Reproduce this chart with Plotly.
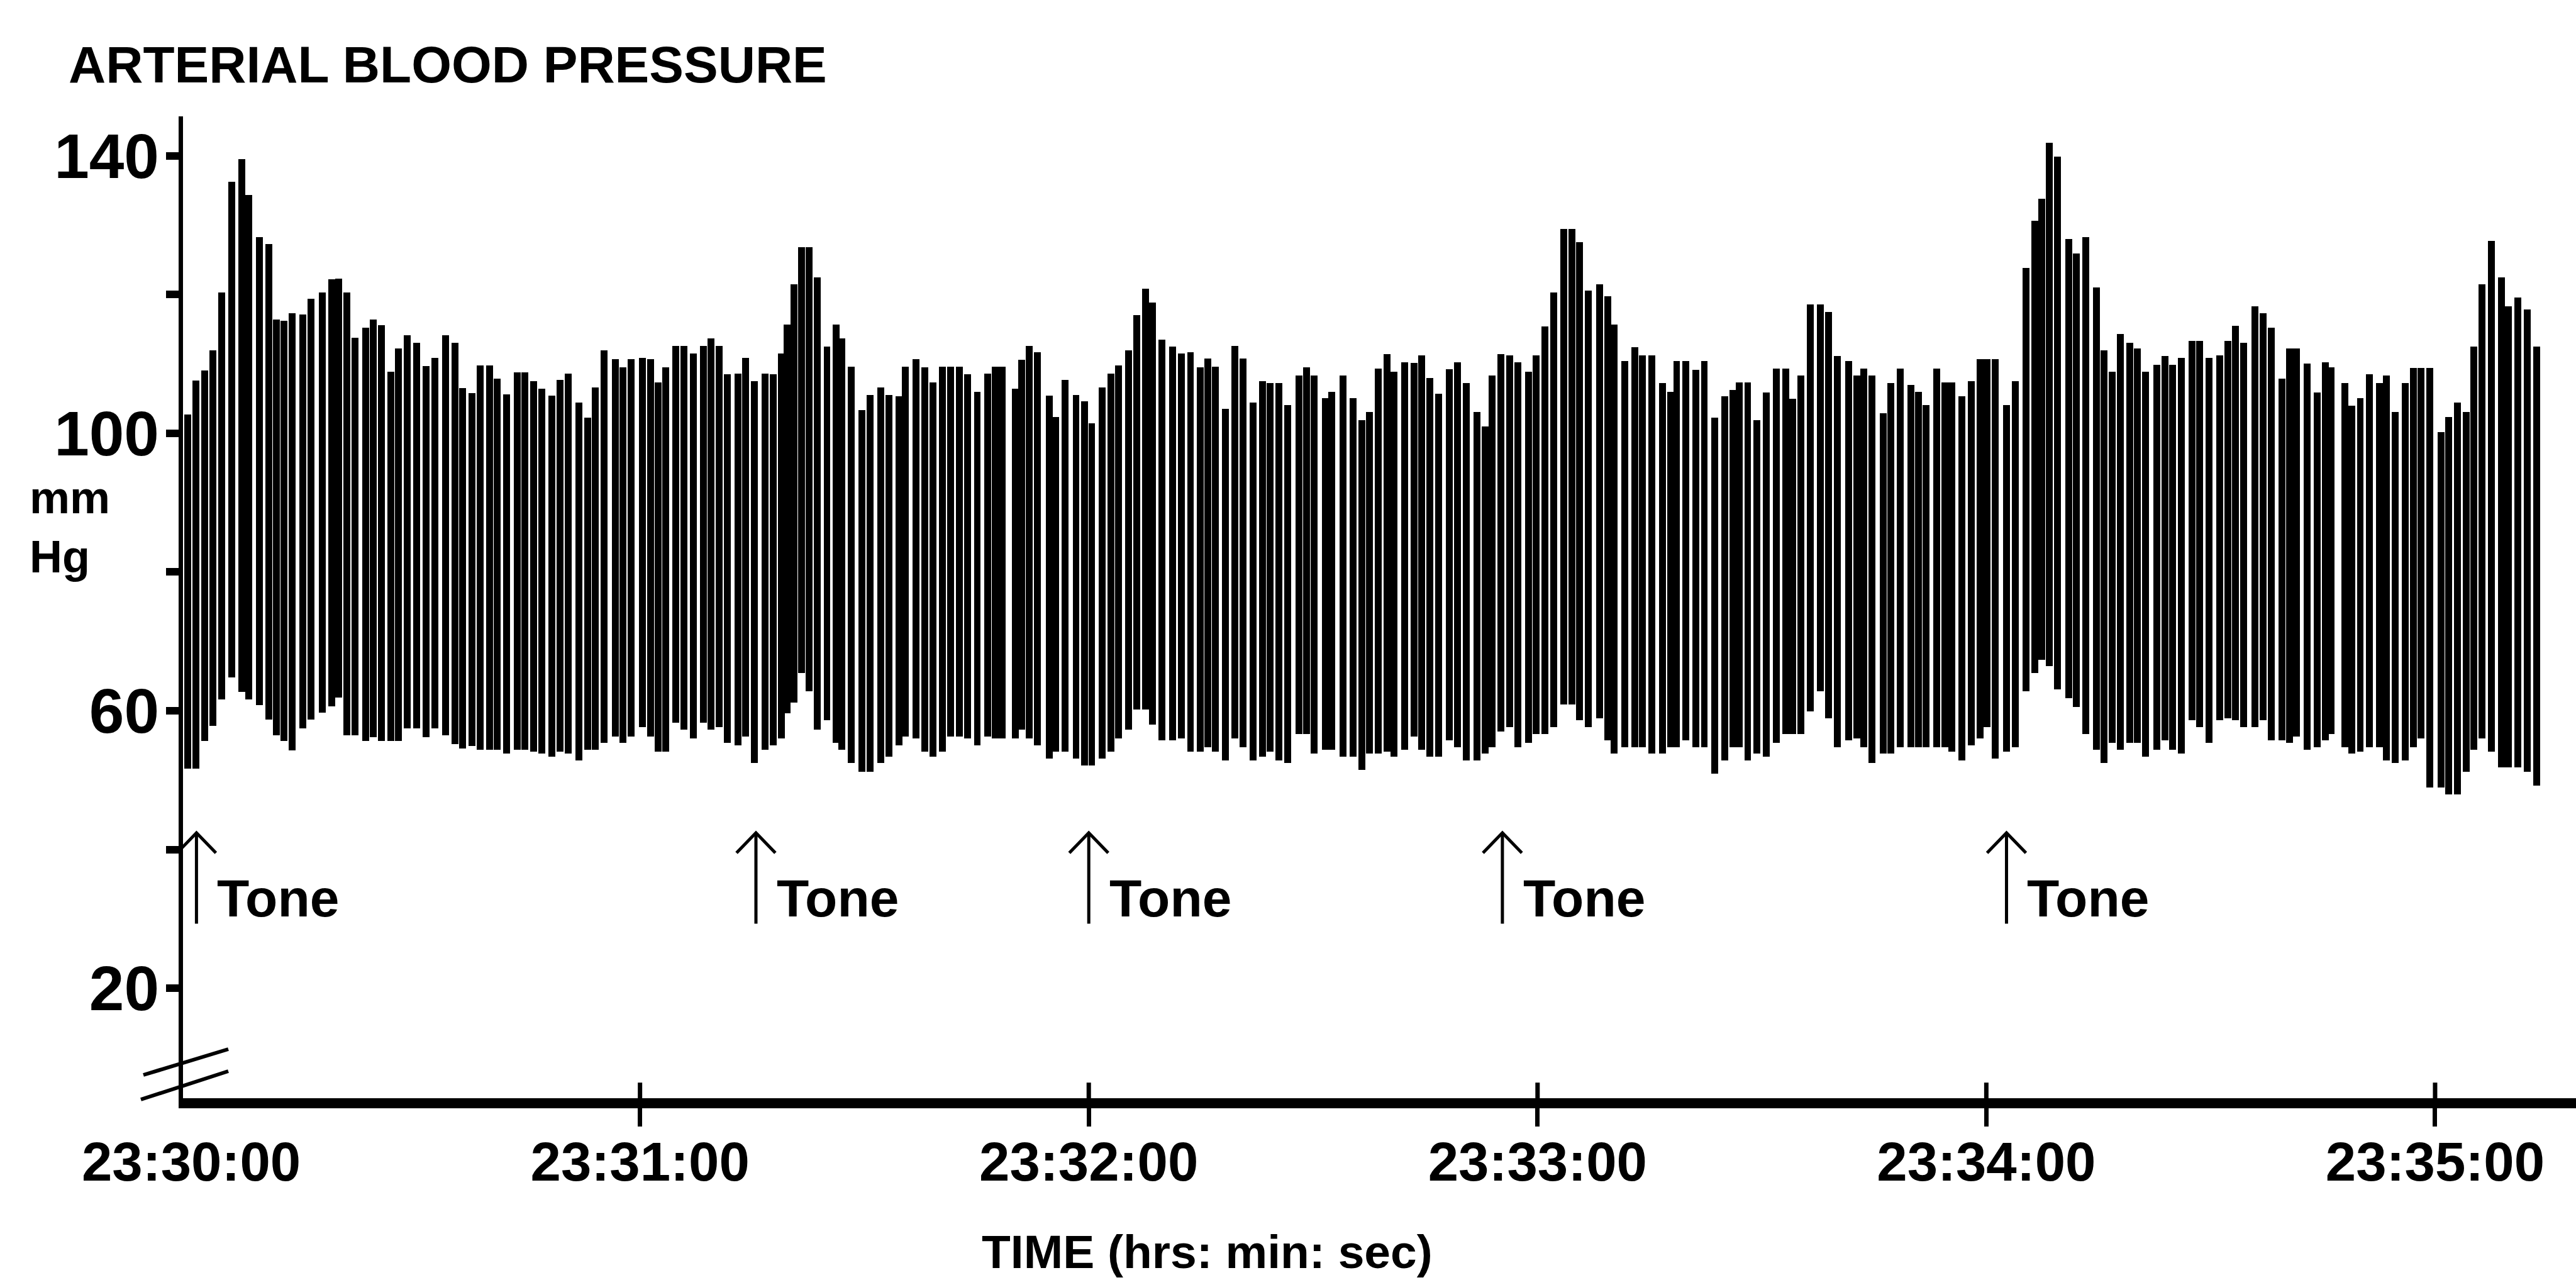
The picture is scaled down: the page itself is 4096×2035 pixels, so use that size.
import plotly.graph_objects as go

# ---------------------------------------------------------------------------
# Beat-by-beat arterial pressure: time of each beat (s after 23:30:00),
# systolic peak and diastolic trough (mmHg), grouped in consecutive stretches.
# ---------------------------------------------------------------------------
t_seg1 = [-0.5, 0.6, 1.8, 2.9, 4.1, 5.4, 6.8, 7.7, 9.1, 10.4, 11.4, 12.4, 13.5, 14.9, 16.0, 17.5,
          18.8, 19.7, 20.8, 21.9, 23.3, 24.3, 25.4, 26.7, 27.7, 28.9, 30.1, 31.4, 32.6, 34.0,
          35.3, 36.3, 37.5]
sys_seg1 = [102.7, 107.6, 109.0, 111.9, 120.3, 136.2, 139.5, 134.3, 128.3, 127.3, 116.4, 116.2,
            117.3, 117.1, 119.4, 120.3, 122.2, 122.3, 120.3, 113.8, 115.2, 116.4, 115.6, 108.9,
            112.2, 114.1, 113.0, 109.7, 110.9, 114.1, 113.0, 106.5, 105.8]
dia_seg1 = [51.7, 51.7, 55.6, 57.8, 61.6, 64.8, 62.7, 61.6, 60.8, 58.7, 56.5, 55.6, 54.3, 57.5,
            58.7, 59.7, 60.6, 61.9, 56.5, 56.5, 55.6, 56.2, 55.6, 55.6, 55.6, 57.5, 57.5, 56.2,
            57.5, 56.5, 55.2, 54.6, 54.9]

t_seg2 = [38.6, 39.9, 40.9, 42.2, 43.6, 44.6, 45.8, 46.9, 48.2, 49.3, 50.4, 51.8, 53.0, 54.0,
          55.2, 56.7, 57.7, 58.8, 60.3, 61.4, 62.4, 63.4, 64.8, 65.9, 67.1, 68.5, 69.5, 70.6,
          71.7, 73.1]
sys_seg2 = [109.8, 109.8, 107.9, 105.6, 108.8, 108.8, 107.5, 106.4, 105.4, 107.7, 108.6, 104.4,
            102.2, 106.6, 111.9, 110.7, 109.5, 110.7, 110.9, 110.7, 107.3, 109.5, 112.6, 112.6,
            111.5, 112.6, 113.7, 112.6, 108.5, 108.6]
dia_seg2 = [54.4, 54.4, 54.4, 53.8, 54.4, 54.4, 54.1, 53.8, 53.4, 54.1, 53.8, 52.8, 54.4, 54.4,
            55.4, 56.3, 55.4, 56.3, 57.6, 56.3, 54.1, 54.1, 58.3, 57.3, 56.0, 58.3, 57.3, 57.6,
            55.4, 55.0]

t_seg3 = [74.1, 75.3, 76.7, 77.8, 78.9, 79.7, 80.6, 81.6, 82.6, 83.7, 85.0, 86.2, 87.0, 88.2,
          89.7, 90.8, 92.2, 93.3, 94.6, 95.5, 96.9, 98.1, 99.2, 100.4, 101.5, 102.7, 103.8,
          105.1, 106.5, 107.5, 108.4]
sys_seg3 = [110.9, 107.5, 108.6, 108.5, 111.5, 115.7, 121.5, 126.8, 126.8, 122.5, 112.5, 115.7,
            113.7, 109.6, 103.3, 105.5, 106.6, 105.5, 105.3, 109.6, 110.7, 109.5, 107.3, 109.6,
            109.6, 109.6, 108.5, 106.0, 108.6, 109.6, 109.6]
dia_seg3 = [56.3, 52.5, 54.4, 55.0, 56.0, 59.6, 61.2, 65.4, 62.8, 57.3, 58.6, 55.4, 54.4, 52.5,
            51.2, 51.2, 52.5, 53.4, 55.0, 56.3, 56.0, 54.1, 53.4, 54.1, 56.3, 56.3, 56.0, 55.0,
            56.3, 56.0, 56.0]

t_seg4 = [110.2, 111.0, 112.0, 113.1, 114.7, 115.6, 116.8, 118.3, 119.4, 120.4, 121.8, 123.0,
          124.0, 125.3, 126.4, 127.6, 128.5, 129.8, 131.2, 132.4, 133.6, 134.9, 135.9, 136.9,
          138.3, 139.5, 140.6, 142.0, 143.2, 144.2]
sys_seg4 = [106.4, 110.6, 112.6, 111.7, 105.4, 102.3, 107.7, 105.5, 104.6, 101.4, 106.6, 108.6,
            109.8, 111.9, 117.0, 120.8, 118.8, 113.5, 112.5, 111.5, 111.7, 109.5, 110.8, 109.6,
            103.5, 112.6, 110.8, 104.4, 107.5, 107.2]
dia_seg4 = [56.0, 57.3, 56.0, 55.0, 53.1, 54.1, 54.1, 53.1, 52.1, 52.1, 53.1, 54.1, 56.0, 57.3,
            60.2, 60.2, 58.0, 55.7, 55.7, 56.0, 54.1, 54.1, 54.7, 54.1, 52.8, 56.0, 54.7, 52.8,
            53.4, 54.1]

t_seg5 = [145.4, 146.6, 148.1, 149.1, 150.1, 151.6, 152.5, 154.0, 155.3, 156.5, 157.5, 158.7,
          159.9, 160.8, 162.2, 163.5, 164.5, 165.6, 166.8, 168.2, 169.3, 170.5, 171.9, 173.0,
          173.9, 175.1, 176.3, 177.4, 178.8, 179.8]
sys_seg5 = [107.2, 104.1, 108.3, 109.5, 108.3, 105.1, 106.0, 108.3, 105.1, 101.9, 103.1, 109.3,
            111.4, 108.9, 110.2, 110.1, 111.2, 108.0, 105.7, 109.2, 110.2, 107.2, 103.1, 101.0,
            108.3, 111.4, 111.2, 110.2, 108.9, 111.2]
dia_seg5 = [52.8, 52.5, 56.6, 56.6, 53.8, 54.4, 54.4, 53.4, 53.4, 51.5, 53.8, 53.8, 54.1, 53.4,
            54.4, 56.3, 54.4, 53.4, 53.4, 55.7, 54.7, 52.8, 52.8, 53.8, 54.7, 57.0, 57.6, 54.7,
            55.4, 56.6]

t_seg6 = [181.0, 182.2, 183.5, 184.6, 185.6, 186.8, 188.3, 189.4, 190.2, 191.7, 193.0, 194.0,
          195.3, 196.7, 197.8, 198.6, 199.8, 201.2, 202.3, 203.7, 205.0, 206.1, 207.0, 208.1,
          209.3, 210.6, 211.9, 213.2, 214.1, 215.2]
sys_seg6 = [115.4, 120.3, 129.4, 129.4, 127.5, 120.6, 121.5, 119.7, 115.7, 110.4, 112.4, 111.2,
            111.2, 107.2, 106.0, 110.4, 110.4, 109.1, 110.4, 102.2, 105.3, 106.2, 107.3, 107.3,
            101.9, 105.9, 109.3, 109.3, 105.0, 108.3]
dia_seg6 = [56.6, 57.6, 60.9, 60.9, 58.6, 57.6, 58.9, 55.7, 53.8, 54.7, 54.7, 54.7, 53.8, 53.8,
            54.7, 54.7, 55.7, 54.7, 54.7, 50.9, 52.8, 54.7, 54.7, 52.8, 53.8, 53.4, 55.4, 56.6,
            56.6, 56.6]

t_seg7 = [216.5, 217.8, 218.9, 220.1, 221.6, 222.7, 223.6, 224.7, 226.2, 227.2, 228.5, 229.9,
          230.9, 231.9, 233.4, 234.5, 235.4, 236.7, 238.0, 239.2, 240.1, 241.2, 242.7, 243.9,
          245.3, 246.5, 247.4, 248.4, 249.5]
sys_seg7 = [118.6, 118.6, 117.5, 111.1, 110.4, 108.3, 109.3, 108.3, 102.9, 107.2, 109.3, 107.0,
            106.0, 104.1, 109.3, 107.3, 107.3, 105.3, 107.5, 110.7, 110.7, 110.7, 104.1, 107.5,
            123.8, 130.6, 133.8, 141.9, 139.9]
dia_seg7 = [59.9, 62.8, 58.9, 54.7, 55.7, 56.0, 54.7, 52.5, 53.8, 53.8, 54.7, 54.7, 54.7, 54.7,
            54.7, 54.7, 54.1, 52.8, 55.0, 56.0, 57.6, 53.1, 54.1, 54.7, 62.8, 65.4, 67.3, 66.4,
            63.1]

t_seg8 = [251.0, 252.0, 253.3, 254.7, 255.7, 256.8, 257.9, 259.2, 260.2, 261.3, 262.8, 263.9,
          264.9, 266.1, 267.5, 268.5, 269.8, 271.2, 272.3, 273.3, 274.4, 275.9, 277.0, 278.1,
          279.5, 280.5, 281.5, 282.9, 284.2, 285.3, 286.1]
sys_seg8 = [128.0, 125.9, 128.3, 121.0, 111.9, 108.9, 114.3, 113.0, 112.2, 108.9, 109.9, 111.1,
            109.9, 110.9, 113.3, 113.3, 110.9, 111.2, 113.3, 115.5, 113.0, 118.3, 117.3, 115.2,
            107.9, 112.2, 112.2, 110.0, 105.9, 110.2, 109.5]
dia_seg8 = [61.8, 60.5, 56.6, 54.4, 52.5, 55.4, 54.4, 55.4, 55.4, 53.4, 54.4, 55.7, 54.4, 53.8,
            58.6, 57.6, 55.4, 58.6, 58.9, 58.6, 57.6, 57.6, 58.6, 55.7, 55.7, 55.4, 56.3, 54.4,
            54.7, 55.7, 56.6]

t_seg9 = [287.9, 288.9, 290.0, 291.2, 292.6, 293.5, 294.7, 296.0, 297.1, 298.1, 299.3, 300.8,
          301.8, 303.0, 304.2, 305.2, 306.3, 307.5, 308.9, 309.8, 311.1, 312.3, 313.6]
sys_seg9 = [107.2, 104.0, 105.1, 108.5, 107.2, 108.3, 103.1, 107.2, 109.4, 109.4, 109.4, 100.2,
            102.3, 104.4, 103.1, 112.5, 121.5, 127.7, 122.5, 118.3, 119.6, 117.8, 112.5]
dia_seg9 = [54.7, 53.8, 54.1, 54.7, 54.7, 52.8, 52.5, 52.8, 54.7, 56.0, 48.9, 48.9, 47.9, 47.9,
            51.2, 54.4, 56.0, 54.1, 51.8, 51.8, 51.8, 51.2, 49.2]

# Auditory tone stimuli (s after 23:30:00)
tone_t = [0.7, 75.5, 120.0, 175.3, 242.7]

# Axis ticks
x_tick_s = [0, 60, 120, 180, 240, 300]
x_tick_labels = ["23:30:00", "23:31:00", "23:32:00", "23:33:00", "23:34:00", "23:35:00"]
y_tick_vals = [20, 40, 60, 80, 100, 120, 140]
y_tick_labels = ["20", "", "60", "", "100", "", "140"]

# ---------------------------------------------------------------------------
beat_t = t_seg1 + t_seg2 + t_seg3 + t_seg4 + t_seg5 + t_seg6 + t_seg7 + t_seg8 + t_seg9
systolic = sys_seg1 + sys_seg2 + sys_seg3 + sys_seg4 + sys_seg5 + sys_seg6 + sys_seg7 + sys_seg8 + sys_seg9
diastolic = dia_seg1 + dia_seg2 + dia_seg3 + dia_seg4 + dia_seg5 + dia_seg6 + dia_seg7 + dia_seg8 + dia_seg9
pulse = [s - d for s, d in zip(systolic, diastolic)]

W, H = 4096, 2035
M_L, M_R, M_T, M_B = 291, 0, 185, 289
PLOT_W = W - M_L - M_R
PLOT_H = H - M_T - M_B
X_RANGE = [-1.10, 318.84]
Y_RANGE = [4.15, 145.67]


def px_x(px):
    """Horizontal pixel position -> paper fraction."""
    return (px - M_L) / PLOT_W


def px_y(px):
    """Vertical pixel position (from top) -> paper fraction."""
    return (H - M_B - px) / PLOT_H


BOLD = "Liberation Sans, Arial, Helvetica, sans-serif"

fig = go.Figure()

# each heartbeat: a stroke from diastolic trough to systolic peak
fig.add_trace(go.Bar(
    x=beat_t, y=pulse, base=diastolic, width=0.92,
    marker=dict(color="black", line=dict(width=0)),
    showlegend=False, hoverinfo="skip",
))

# tone markers: shaft + open arrowhead
ARROW_TOP, ARROW_BOT = 42.4, 29.3
HEAD_W, HEAD_H = 2.6, 2.9
ax_x, ax_y = [], []
for t in tone_t:
    ax_x += [t, t, None, t - HEAD_W, t, t + HEAD_W, None]
    ax_y += [ARROW_BOT, ARROW_TOP, None, ARROW_TOP - HEAD_H, ARROW_TOP, ARROW_TOP - HEAD_H, None]
fig.add_trace(go.Scatter(x=ax_x, y=ax_y, mode="lines", line=dict(color="black", width=5),
                         showlegend=False, hoverinfo="skip"))

# upper halves of the time ticks, crossing the axis line
tk_x, tk_y = [], []
for t in x_tick_s[1:]:
    tk_x += [t, t, None]
    tk_y += [Y_RANGE[0], 6.4, None]
fig.add_trace(go.Scatter(x=tk_x, y=tk_y, mode="lines", line=dict(color="black", width=7),
                         xaxis="x2", showlegend=False, hoverinfo="skip"))

for t in tone_t:
    fig.add_annotation(x=t + 2.6, y=33.0, xref="x", yref="y", text="Tone", showarrow=False,
                       xanchor="left", yanchor="middle",
                       font=dict(family=BOLD, size=84, color="black", weight="bold"))

# chart title and axis titles
fig.add_annotation(x=px_x(107), y=px_y(103), xref="paper", yref="paper",
                   text="ARTERIAL BLOOD PRESSURE", showarrow=False, xanchor="left", yanchor="middle",
                   font=dict(family=BOLD, size=82, color="black", weight="bold"))
fig.add_annotation(x=px_x(45), y=px_y(838), xref="paper", yref="paper", text="mm<br>Hg",
                   showarrow=False, xanchor="left", yanchor="middle", align="left",
                   font=dict(family=BOLD, size=72, color="black", weight="bold"))
fig.add_annotation(x=px_x(1919), y=px_y(1990), xref="paper", yref="paper",
                   text="TIME (hrs: min: sec)", showarrow=False, xanchor="center", yanchor="middle",
                   font=dict(family=BOLD, size=75, color="black", weight="bold"))

# axis-break marks at the origin
for (x0, y0, x1, y1) in [(228, 1709, 363, 1668), (224, 1748, 363, 1703)]:
    fig.add_shape(type="line", xref="paper", yref="paper",
                  x0=px_x(x0), y0=px_y(y0), x1=px_x(x1), y1=px_y(y1),
                  line=dict(color="black", width=6))

fig.update_layout(
    width=W, height=H,
    margin=dict(l=M_L, r=M_R, t=M_T, b=M_B, pad=0),
    paper_bgcolor="white", plot_bgcolor="white",
    showlegend=False, bargap=0,
    xaxis=dict(
        range=X_RANGE, tickmode="array", tickvals=x_tick_s, ticktext=x_tick_labels,
        ticks="", showline=True, linecolor="black", linewidth=16,
        showgrid=False, zeroline=False, ticklabelstandoff=11,
        tickfont=dict(family=BOLD, size=87, color="black", weight="bold"),
    ),
    xaxis2=dict(
        range=X_RANGE, overlaying="x", anchor="y", side="bottom",
        tickmode="array", tickvals=x_tick_s[1:], showticklabels=False,
        ticks="outside", ticklen=44, tickwidth=7, tickcolor="black",
        showline=False, showgrid=False, zeroline=False,
    ),
    yaxis=dict(
        range=Y_RANGE, tickmode="array", tickvals=y_tick_vals, ticktext=y_tick_labels,
        ticks="outside", ticklen=20, tickwidth=12, tickcolor="black",
        showline=True, linecolor="black", linewidth=7,
        showgrid=False, zeroline=False, ticklabelstandoff=-9,
        tickfont=dict(family=BOLD, size=100, color="black", weight="bold"),
    ),
)

fig.write_html("out.html")
